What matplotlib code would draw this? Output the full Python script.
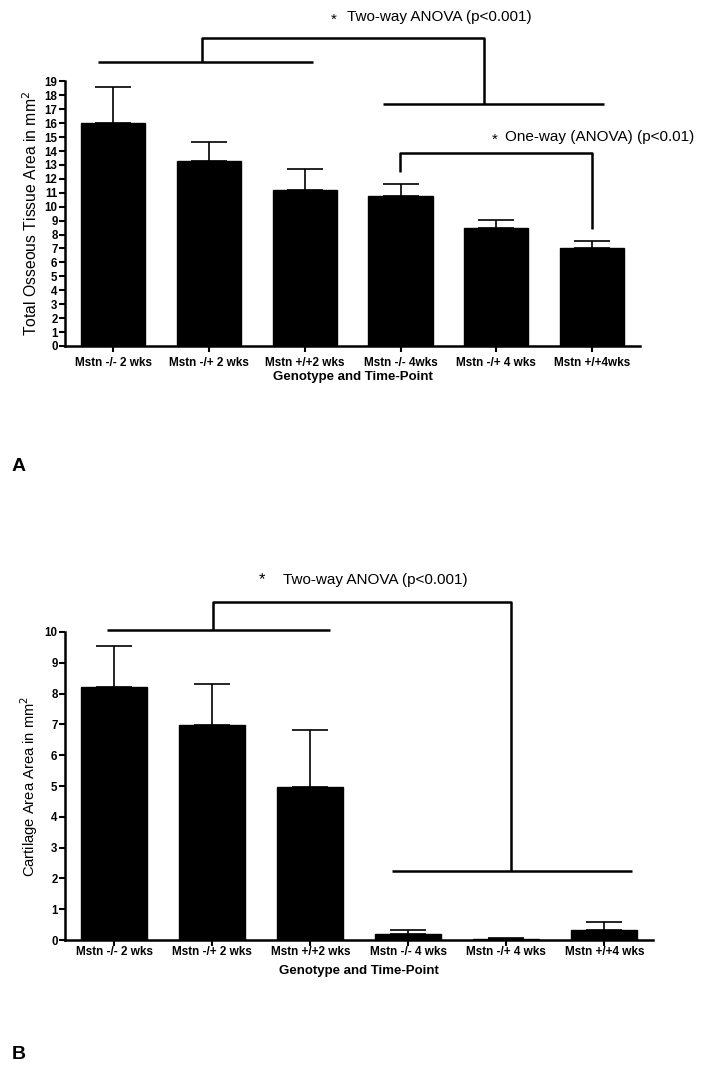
import matplotlib
matplotlib.use("Agg")
import matplotlib.pyplot as plt
import numpy as np

plt.rcParams['font.family'] = ['Liberation Sans', 'DejaVu Sans']

# Panel A - total osseous tissue
labels_a = ["Mstn -/- 2 wks", "Mstn -/+ 2 wks", "Mstn +/+2 wks",
            "Mstn -/- 4wks", "Mstn -/+ 4 wks", "Mstn +/+4wks"]
means_a = [16.0, 13.3, 11.2, 10.75, 8.45, 7.0]
err_a = [2.6, 1.33, 1.5, 0.9, 0.6, 0.52]

# Panel B - cartilage
labels_b = ["Mstn -/- 2 wks", "Mstn -/+ 2 wks", "Mstn +/+2 wks",
            "Mstn -/- 4 wks", "Mstn -/+ 4 wks", "Mstn +/+4 wks"]
means_b = [8.22, 6.98, 4.96, 0.2, 0.04, 0.31]
err_b = [1.31, 1.33, 1.87, 0.13, 0.03, 0.28]

fig = plt.figure(figsize=(7.01, 10.71), dpi=100)


def bar_panel(ax, labels, means, errs, ymax, ylabel, ylsize, xpad, xlpad):
    x = np.arange(len(means))
    ax.bar(x, means, width=0.67, color='black', edgecolor='black', zorder=2)
    ax.errorbar(x, means, yerr=[np.zeros(len(errs)), errs], fmt='none',
                ecolor='black', elinewidth=1.2, capsize=13, capthick=1.2, zorder=1)
    ax.set_xlim(-0.5, 5.5)
    ax.set_ylim(0, ymax)
    ax.set_yticks(np.arange(0, ymax + 1, 1))
    ax.set_xticks(x)
    ax.set_xticklabels(labels, fontsize=8.5, fontweight='bold')
    for t in ax.get_yticklabels():
        t.set_fontsize(8.3)
        t.set_fontweight('bold')
    ax.spines['top'].set_visible(False)
    ax.spines['right'].set_visible(False)
    ax.spines['left'].set_linewidth(1.8)
    ax.spines['bottom'].set_linewidth(1.8)
    ax.tick_params(axis='both', direction='out', length=4, width=1.5, pad=1.5)
    ax.tick_params(axis='x', pad=xpad)
    ax.set_xlabel("Genotype and Time-Point", fontsize=9.5, fontweight='bold', labelpad=xlpad)
    ax.set_ylabel(ylabel, fontsize=ylsize)
    ax.yaxis.set_label_coords(-0.043, 0.5)


def line(ax, xs, ys):
    ax.plot(xs, ys, color='black', lw=1.8, clip_on=False, solid_capstyle='butt')


# ---- A ----
ax1 = fig.add_axes([0.093, 0.677, 0.82, 0.247])
bar_panel(ax1, labels_a, means_a, err_a, 19, "Total Osseous Tissue Area in mm$^2$", 11.3, 4, 1.5)
line(ax1, [-0.155, 2.09], [20.4, 20.4])
line(ax1, [0.925, 0.925, 3.87, 3.87], [20.4, 22.15, 22.15, 17.38])
line(ax1, [2.82, 5.12], [17.38, 17.38])
line(ax1, [2.99, 2.99, 5.0, 5.0], [12.5, 13.85, 13.85, 8.37])
ax1.text(2.30, 23.4, "*", fontsize=11, ha='center', va='center', clip_on=False)
ax1.text(2.44, 23.6, "Two-way ANOVA (p<0.001)", fontsize=11, va='center')
ax1.text(3.98, 14.8, "*", fontsize=11, ha='center', va='center', clip_on=False)
ax1.text(4.09, 15.0, "One-way (ANOVA) (p<0.01)", fontsize=11, va='center')
fig.text(0.017, 0.564, "A", fontsize=14, fontweight='bold', ha='left', va='center')

# ---- B ----
ax2 = fig.add_axes([0.093, 0.1223, 0.839, 0.2876])
bar_panel(ax2, labels_b, means_b, err_b, 10, "Cartilage Area Area in mm$^2$", 10.6, 0.5, 5)
line(ax2, [-0.07, 2.2], [10.06, 10.06])
line(ax2, [1.01, 1.01, 4.05, 4.05], [10.06, 10.97, 10.97, 2.24])
line(ax2, [2.83, 5.28], [2.24, 2.24])
ax2.text(1.51, 11.69, "*", fontsize=12, ha='center', va='center')
ax2.text(1.72, 11.69, "Two-way ANOVA (p<0.001)", fontsize=11, va='center')
fig.text(0.017, 0.015, "B", fontsize=14, fontweight='bold', ha='left', va='center')

fig.savefig("out.png", dpi=100)
